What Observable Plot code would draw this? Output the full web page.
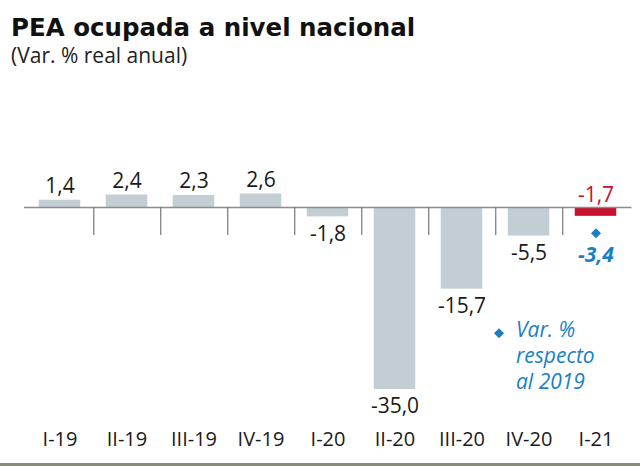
<!DOCTYPE html>
<html>
<head>
<meta charset="utf-8">
<script src="https://cdn.jsdelivr.net/npm/d3@7"></script>
<script src="https://cdn.jsdelivr.net/npm/@observablehq/plot@0.6"></script>
<style>
  html, body { margin: 0; padding: 0; background: #fff; }
  #wrap { position: relative; width: 640px; height: 466px; overflow: hidden; font-family: "Open Sans", sans-serif; }
  #title { position: absolute; left: 11px; top: 15px; font-family: "DejaVu Sans", sans-serif; font-size: 24.5px; line-height: 26px; font-weight: 700; color: #111; white-space: nowrap; }
  #subtitle { position: absolute; left: 11px; top: 43px; font-size: 21px; line-height: 24px; color: #222; white-space: nowrap; }
  #chart { position: absolute; left: 0; top: 70px; }
  #bottomline { position: absolute; left: 0; top: 463px; width: 640px; height: 3px; background: #8a8a7c; }
</style>
</head>
<body>
<div id="wrap">
  <div id="title">PEA ocupada a nivel nacional</div>
  <div id="subtitle">(Var. % real anual)</div>
  <div id="chart"></div>
  <div id="bottomline"></div>
</div>
<script>
const categories = ["I-19", "II-19", "III-19", "IV-19", "I-20", "II-20", "III-20", "IV-20", "I-21"];
const values = [1.4, 2.4, 2.3, 2.6, -1.8, -35.0, -15.7, -5.5, -1.7];
const highlight = "I-21";
const vs2019Category = "I-21";
const vs2019Value = -3.4;
const annotationLines = ["Var. %", "respecto", "al 2019"];

const GRAY = "#c3cdd4";
const RED = "#c8102e";
const BLUE = "#1a7fc4";
const INK = "#1a1a1a";

const data = categories.map((c, i) => ({cat: c, value: values[i]}));
const fmt = v => v.toFixed(1).replace(".", ",");
const normal = data.filter(d => d.cat !== highlight);
const hi = data.filter(d => d.cat === highlight);

const chart = Plot.plot({
  width: 640,
  height: 396,
  marginLeft: 24,
  marginRight: 8.5,
  marginTop: 111,
  marginBottom: 51,
  style: {fontFamily: "Open Sans, sans-serif", background: "#fff"},
  x: {type: "band", domain: categories, padding: 0, label: null},
  y: {domain: [-40, 5], axis: null},
  marks: [
    Plot.barY(data, {x: "cat", y: "value", fill: d => d.cat === highlight ? RED : GRAY, insetLeft: 12.75, insetRight: 12.75}),
    Plot.ruleY([0], {stroke: "#8c8c8c", strokeWidth: 1.5}),
    Plot.ruleX(categories.slice(0, -1), {x: d => d, y1: 0, y2: 0, dx: 33.75, insetBottom: -28, stroke: "#777", strokeWidth: 1.2}),
    Plot.text(normal.filter(d => d.value >= 0), {x: "cat", y: "value", text: d => fmt(d.value), dy: -14, fontSize: 21, fill: INK}),
    Plot.text(normal.filter(d => d.value < 0), {x: "cat", y: "value", text: d => fmt(d.value), dy: 17, fontSize: 21, fill: INK}),
    Plot.text(hi, {x: "cat", y: 0, text: d => fmt(d.value), dy: -12, fontSize: 21, fill: RED}),
    Plot.dot([{cat: vs2019Category, value: vs2019Value}], {x: "cat", y: "value", symbol: "diamond2", r: 4.5, fill: BLUE, stroke: "none", dy: 8}),
    Plot.text([{cat: vs2019Category, value: vs2019Value}], {x: "cat", y: "value", text: d => fmt(d.value), dy: 30, fontSize: 21, fontWeight: 700, fontStyle: "italic", fill: BLUE}),
    Plot.dot([{cat: "IV-20", value: -24.2}], {x: "cat", y: "value", symbol: "diamond2", r: 4.5, fill: BLUE, stroke: "none", dx: -30}),
    Plot.text([{cat: "IV-20", value: -28.3}], {x: "cat", y: "value", text: () => annotationLines.join("\n"), textAnchor: "start", lineAnchor: "middle", lineHeight: 1.25, dx: -13, fontSize: 21, fontStyle: "italic", fill: BLUE}),
    Plot.axisX({tickSize: 0, tickPadding: 16, fontSize: 20, color: INK, label: null})
  ]
});
document.getElementById("chart").appendChild(chart);
</script>
</body>
</html>
